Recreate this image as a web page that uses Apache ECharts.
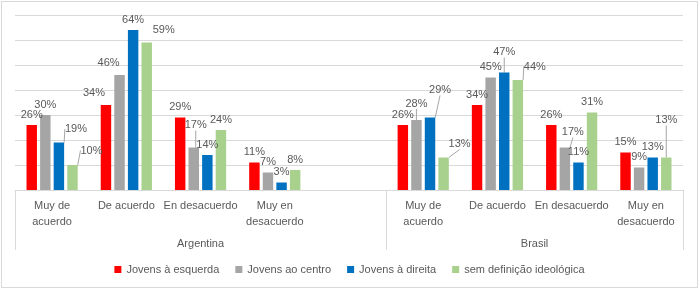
<!DOCTYPE html>
<html><head><meta charset="utf-8">
<script src="https://cdn.jsdelivr.net/npm/echarts@6/dist/echarts.min.js"></script>
<style>
html,body{margin:0;padding:0;background:#fff;}
#frame{position:absolute;left:1px;top:1px;width:697px;height:287px;box-sizing:border-box;border:1px solid #d9d9d9;}
#chart{position:absolute;left:0;top:0;width:699px;height:289px;}
</style></head>
<body>
<div id="frame"></div>
<div id="chart"></div>
<script>
// categories (Argentina 4, spacer, Brasil 4)
const categories = ['Muy de\nacuerdo','De acuerdo','En desacuerdo','Muy en\ndesacuerdo','','Muy de\nacuerdo','De acuerdo','En desacuerdo','Muy en\ndesacuerdo'];
const groups = ['Argentina','Brasil'];
const seriesNames = ['Jovens à esquerda','Jovens ao centro','Jovens à direita','sem definição ideológica'];
const esquerda = [26, 34, 29, 11, '-', 26, 34, 26, 15];
const centro   = [30, 46, 17, 7,  '-', 28, 45, 17, 9];
const direita  = [19, 64, 14, 3,  '-', 29, 47, 11, 13];
const semDef   = [10, 59, 24, 8,  '-', 13, 44, 31, 13];
const values = [esquerda, centro, direita, semDef];
const colors = ['#FF0000','#A5A5A5','#0070C0','#A9D18E'];

// label displacements (seriesIndex-dataIndex): [dx, dy, showLeader]
const labelMoves = {
  '2-0':[17,-3,true], '3-0':[19,-4,true],
  '0-1':[-12,-2,false], '1-1':[-11,-2,false], '3-1':[17,-2,false],
  '1-2':[2,-12,true],
  '1-5':[0,-6,true], '2-5':[10,-17,true], '3-5':[16,-3,true],
  '2-6':[0,-10,true], '3-6':[17,-3,true],
  '1-7':[8,-5,true],
  '3-8':[0,-27,true]
};

const chart = echarts.init(document.getElementById('chart'));
const font = 'Liberation Sans, Arial, sans-serif';
const txt = '#595959';

const series = values.map((arr, s) => ({
  name: seriesNames[s],
  type: 'bar',
  xAxisIndex: 0,
  barGap: '30%',
  barCategoryGap: '31%',
  itemStyle: {color: colors[s]},
  label: {show: true, position: 'top', distance: 5, formatter: '{c}%', color: txt, fontSize: 11, fontFamily: font},
  labelLine: {show: true, lineStyle: {color: '#A6A6A6', width: 1}},
  labelLayout: function (p) {
    const m = labelMoves[p.seriesIndex + '-' + p.dataIndex];
    return m ? {dx: m[0], dy: m[1]} : {};
  },
  data: arr.map((v, i) => {
    const m = labelMoves[s + '-' + i];
    return {value: v, labelLine: {show: !!(m && m[2])}};
  })
}));

chart.setOption({
  animation: false,
  textStyle: {fontFamily: font},
  grid: {left: 15, right: 16, top: 15, bottom: 99},
  legend: {
    bottom: 9, left: 'center', itemWidth: 7, itemHeight: 7, itemGap: 16, icon: 'rect',
    textStyle: {color: txt, fontSize: 11, fontFamily: font},
    data: seriesNames
  },
  xAxis: [{
    type: 'category', data: categories,
    axisLine: {lineStyle: {color: '#D9D9D9'}},
    axisTick: {show: false},
    axisLabel: {interval: 0, color: txt, fontSize: 11, lineHeight: 16, margin: 8, fontFamily: font}
  }, {
    type: 'value', min: 0, max: categories.length, position: 'bottom',
    axisLine: {show: false}, splitLine: {show: false},
    axisTick: {show: true, customValues: [0, 5, 9], length: 60, lineStyle: {color: '#D9D9D9'}},
    axisLabel: {customValues: [2.5, 7], formatter: v => (v < 5 ? groups[0] : groups[1]), color: txt, fontSize: 11, margin: 48, fontFamily: font}
  }],
  yAxis: {
    type: 'value', min: 0, max: 70, interval: 10,
    axisLabel: {show: false}, axisLine: {show: false}, axisTick: {show: false},
    splitLine: {lineStyle: {color: '#D9D9D9'}}
  },
  series: series
});
</script>
</body></html>
